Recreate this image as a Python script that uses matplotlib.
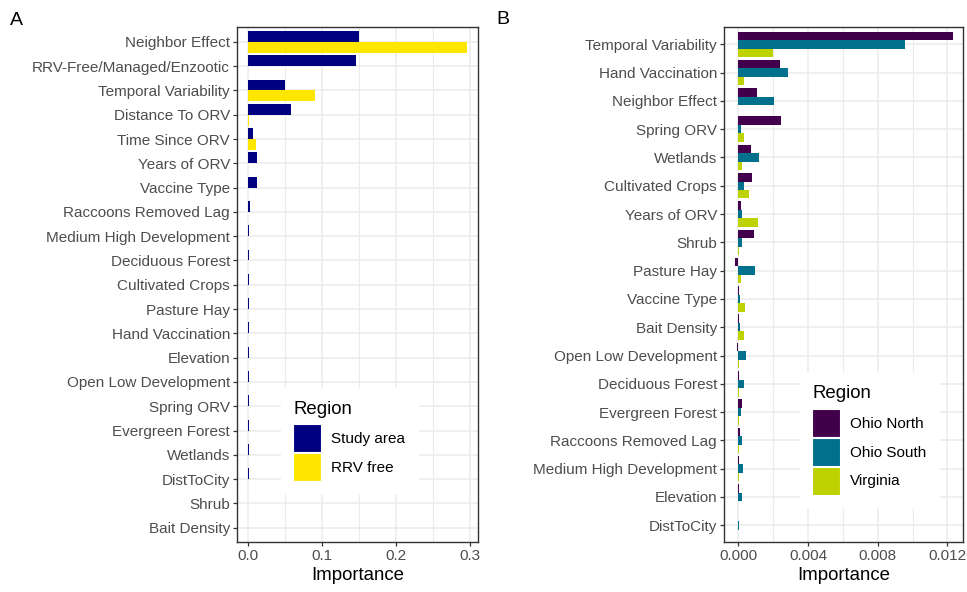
import numpy as np
import matplotlib
matplotlib.use("Agg")
import matplotlib.pyplot as plt
from matplotlib.patches import Patch
from matplotlib.ticker import MultipleLocator

plt.rcParams["font.family"] = ["Liberation Sans", "DejaVu Sans"]

# ---------------- Panel A data ----------------
vars_a = [
    "Neighbor Effect", "RRV-Free/Managed/Enzootic", "Temporal Variability",
    "Distance To ORV", "Time Since ORV", "Years of ORV", "Vaccine Type",
    "Raccoons Removed Lag", "Medium High Development", "Deciduous Forest",
    "Cultivated Crops", "Pasture Hay", "Hand Vaccination", "Elevation",
    "Open Low Development", "Spring ORV", "Evergreen Forest", "Wetlands",
    "DistToCity", "Shrub", "Bait Density",
]
study_area = [0.150, 0.1455, 0.050, 0.058, 0.007, 0.0125, 0.012,
              0.0022, 0.0020, 0.0018, 0.0018, 0.0018, 0.0016, 0.0015,
              0.0014, 0.0012, 0.0012, 0.0011, 0.0009, 0.0004, 0.0003]
rrv_free = [0.295, 0.0, 0.090, 0.0012, 0.011, 0.0, 0.0,
            0.0004, 0.0006, 0.0004, 0.0004, 0.0005, 0.0004, 0.0003,
            0.0003, 0.0004, 0.0003, 0.0003, 0.0002, 0.0001, 0.0001]
series_a = [("Study area", study_area, "#000080"),
            ("RRV free", rrv_free, "#FFE600")]

# ---------------- Panel B data ----------------
vars_b = [
    "Temporal Variability", "Hand Vaccination", "Neighbor Effect",
    "Spring ORV", "Wetlands", "Cultivated Crops", "Years of ORV", "Shrub",
    "Pasture Hay", "Vaccine Type", "Bait Density", "Open Low Development",
    "Deciduous Forest", "Evergreen Forest", "Raccoons Removed Lag",
    "Medium High Development", "Elevation", "DistToCity",
]
ohio_north = [0.01229, 0.00240, 0.00109, 0.00244, 0.00073, 0.00078,
              0.00017, 0.00093, -0.00019, 0.00002, 0.00002, -0.00004,
              0.00003, 0.00020, 0.00010, 0.00004, 0.00003, 0.00001]
ohio_south = [0.00957, 0.00286, 0.00204, 0.00017, 0.00122, 0.00031,
              0.00023, 0.00020, 0.00099, 0.00011, 0.00013, 0.00044,
              0.00034, 0.00014, 0.00020, 0.00029, 0.00023, 0.00003]
virginia = [0.00198, 0.00033, 0.0, 0.00033, 0.00020, 0.00063,
            0.00111, 0.00003, 0.00017, 0.00038, 0.00034, 0.00006,
            0.00005, 0.00003, 0.00002, 0.00005, 0.00001, 0.0]
series_b = [("Ohio North", ohio_north, "#42004C"),
            ("Ohio South", ohio_south, "#00708C"),
            ("Virginia", virginia, "#BED200")]

GRID = "#EBEBEB"
DARK = "#333333"
TICKLAB = "#4D4D4D"


def dodge_bars(ax, cats, series):
    n = len(cats)
    k = len(series)
    total = 0.9
    w = total / k
    base = np.arange(n)[::-1].astype(float)
    for j, (name, vals, col) in enumerate(series):
        offset = total / 2 - w / 2 - j * w
        ax.barh(base + offset, vals, height=w, color=col,
                edgecolor="none", linewidth=0, zorder=3, label=name)
    ax.set_yticks(base)
    ax.set_yticklabels(cats)
    ax.set_ylim(-0.6, n - 1 + 0.6)


def style_axes(ax, major, minor, xlim, fmt):
    ax.set_xlim(*xlim)
    ax.xaxis.set_minor_locator(MultipleLocator(minor))
    ticks = [t for t in np.arange(0, xlim[1], major)]
    ax.set_xticks(ticks)
    ax.set_xticklabels([fmt.format(t) for t in ticks])
    ax.grid(True, which="major", color=GRID, linewidth=1.1, zorder=0)
    ax.grid(True, which="minor", axis="x", color=GRID, linewidth=0.8, zorder=0)
    ax.set_axisbelow(True)
    for s in ax.spines.values():
        s.set_color(DARK)
        s.set_linewidth(1.0)
    ax.tick_params(axis="both", which="major", length=3, width=0.9,
                   color=DARK, labelcolor=TICKLAB, labelsize=11, pad=2)
    ax.tick_params(axis="x", which="minor", length=0)
    ax.set_xlabel("Importance", fontsize=13.4, color="black", labelpad=3)


def add_legend(ax, series, anchor):
    handles = [Patch(facecolor=c, edgecolor="white", linewidth=0.8, label=n)
               for n, _, c in series]
    leg = ax.legend(handles=handles, title="Region", loc="upper left",
                    bbox_to_anchor=anchor, borderaxespad=0.0,
                    fontsize=11, title_fontsize=13.4,
                    handlelength=1.8, handleheight=2.44, handletextpad=0.7,
                    labelspacing=0.05, borderpad=0.8, frameon=True,
                    fancybox=False, edgecolor="white", framealpha=1.0,
                    alignment="left")
    # a little more room between the title and the colour keys
    leg._legend_box.sep = 5
    leg.set_zorder(5)
    return leg


fig = plt.figure(figsize=(9.67, 5.92), dpi=100)

ax_a = fig.add_axes([0.2451, 0.0840, 0.2487, 0.8699])
dodge_bars(ax_a, vars_a, series_a)
style_axes(ax_a, 0.1, 0.05, (-0.01475, 0.3098), "{:.1f}")
add_legend(ax_a, series_a, (0.183, 0.299))

ax_b = fig.add_axes([0.7487, 0.0840, 0.2475, 0.8699])
dodge_bars(ax_b, vars_b, series_b)
style_axes(ax_b, 0.004, 0.002, (-0.000814, 0.01291), "{:.3f}")
add_legend(ax_b, series_b, (0.3176, 0.3288))

fig.text(0.0103, 0.9578, "A", fontsize=14, color="black", va="baseline")
fig.text(0.5129, 0.9595, "B", fontsize=14, color="black", va="baseline")

fig.savefig("out.png", dpi=100, facecolor="white")
